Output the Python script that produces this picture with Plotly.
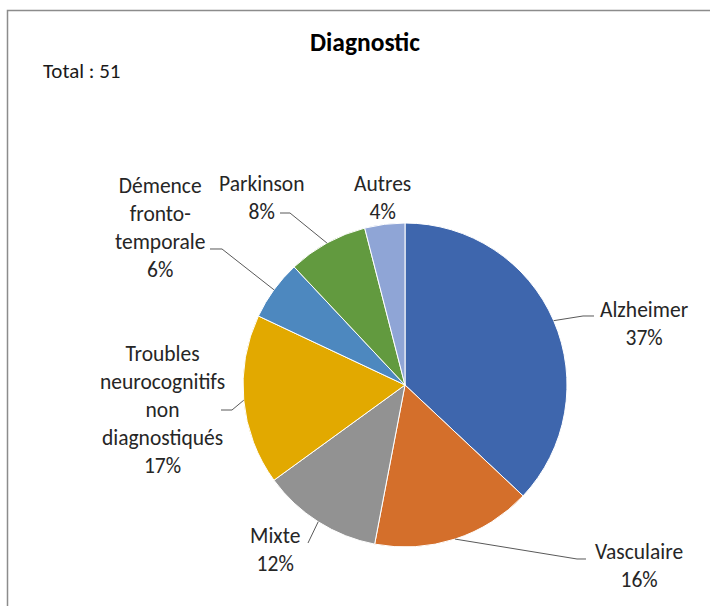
import math
import plotly.graph_objects as go

# ---- data ----
categories = ["Alzheimer", "Vasculaire", "Mixte",
              "Troubles neurocognitifs non diagnostiqués",
              "Démence fronto-temporale", "Parkinson", "Autres"]
label_text = ["Alzheimer", "Vasculaire", "Mixte",
              "Troubles<br>neurocognitifs<br>non<br>diagnostiqués",
              "Démence<br>fronto-<br>temporale", "Parkinson", "Autres"]
percent = [37, 16, 12, 17, 6, 8, 4]
total_n = 51
title_text = "Diagnostic"

# ---- styles / layout ----
W, H = 710, 606
colors = ["#3E66AD", "#D46F2B", "#929292", "#E2A900", "#4D88BF", "#629A3F", "#8FA5D6"]
FONT = "Carlito, Calibri, Lato, sans-serif"
CX, CY, R = 405, 385, 162
# label block centres (px) and leader-line elbow/end points (px)
label_pos = [(644, 324), (639, 566), (275, 550), (162, 410), (160, 228), (262, 198), (383, 198)]
leader = [
    [(583, 316), (594, 316)],
    [(577, 559), (586, 559)],
    [(308, 543)],
    [(232, 410), (221, 410)],
    [(222, 249), (210, 249)],
    [(290, 213), (280, 213)],
    None,
]


def px(x):
    return x / W


def py(y):
    return 1 - y / H


fig = go.Figure(go.Pie(
    labels=categories, values=percent, sort=False, direction="clockwise",
    rotation=0, textinfo="none", hoverinfo="label+percent",
    marker=dict(colors=colors, line=dict(color="white", width=1)),
    domain=dict(x=[px(CX - R), px(CX + R)], y=[py(CY + R), py(CY - R)]),
    showlegend=False,
))

annotations = []
shapes = []
tot = sum(percent)
cum = 0
for i, v in enumerate(percent):
    mid = (cum + v / 2) / tot * 2 * math.pi
    cum += v
    ax_ = CX + R * math.sin(mid)
    ay_ = CY - R * math.cos(mid)
    lx, ly = label_pos[i]
    pct = round(v / tot * 100)
    annotations.append(dict(
        x=px(lx), y=py(ly), xref="paper", yref="paper",
        text=f"{label_text[i]}<br>{pct}%", showarrow=False,
        xanchor="center", yanchor="middle", align="center",
        font=dict(family=FONT, size=21.5, color="#262626"),
    ))
    if leader[i]:
        pts = [(ax_, ay_)] + leader[i]
        path = "M " + " L ".join(f"{px(x):.5f},{py(y):.5f}" for x, y in pts)
        shapes.append(dict(type="path", path=path, xref="paper", yref="paper",
                           line=dict(color="#595959", width=1)))

annotations.append(dict(x=px(365), y=py(42), xref="paper", yref="paper",
                        text=f"<b>{title_text}</b>", showarrow=False,
                        xanchor="center", yanchor="middle",
                        font=dict(family=FONT, size=25.5, color="#000000")))
annotations.append(dict(x=px(41), y=py(71), xref="paper", yref="paper",
                        text=f"Total : {total_n}", showarrow=False,
                        xanchor="left", yanchor="middle",
                        font=dict(family=FONT, size=21, color="#1a1a1a")))

# chart border
shapes.append(dict(type="rect", xref="paper", yref="paper",
                   x0=px(7.5), x1=px(W + 20), y0=py(H + 20), y1=py(10.5),
                   line=dict(color="#8C8C8C", width=1.5)))

fig.update_layout(
    width=W, height=H, margin=dict(l=0, r=0, t=0, b=0),
    paper_bgcolor="white", plot_bgcolor="white",
    annotations=annotations, shapes=shapes,
)

fig.write_html("out.html", config={"displayModeBar": False},
               post_script="document.body.style.margin='0';")
